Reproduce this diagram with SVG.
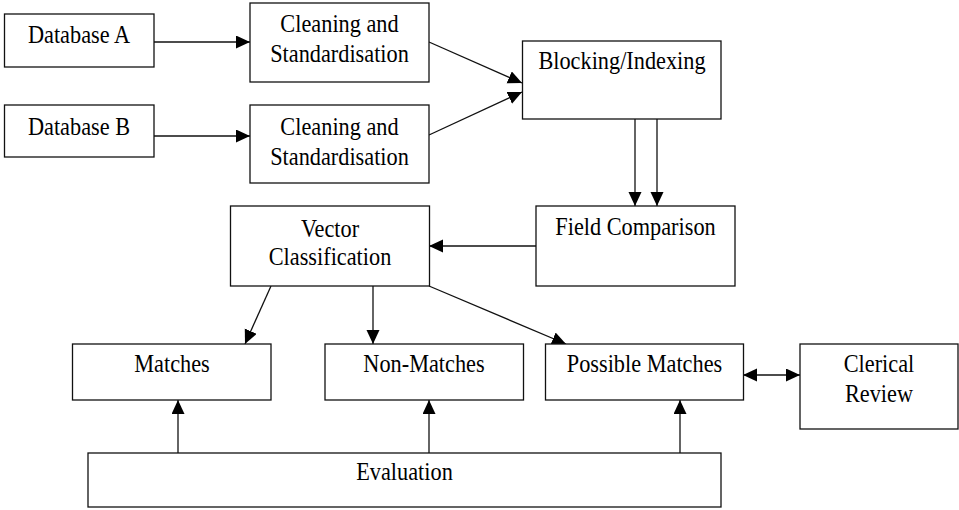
<svg xmlns="http://www.w3.org/2000/svg" width="959" height="510" viewBox="0 0 959 510">
<defs>
<style>
.box{fill:#fff;stroke:#111;stroke-width:1.3}
.t{font-family:"Liberation Serif","Times New Roman",serif;font-size:22.3px;fill:#000;text-anchor:middle}
.c{stroke:#111;stroke-width:1.3;fill:none}
</style>
<marker id="ah" markerUnits="userSpaceOnUse" markerWidth="15" markerHeight="14" refX="14" refY="6.5" orient="auto">
<path d="M0,0 L14,6.5 L0,13 Z" fill="#000"/>
</marker>
<marker id="as" markerUnits="userSpaceOnUse" markerWidth="15" markerHeight="14" refX="14" refY="6.5" orient="auto-start-reverse">
<path d="M0,0 L14,6.5 L0,13 Z" fill="#000"/>
</marker>
</defs>
<rect width="959" height="510" fill="#fff"/>
<g id="connectors">
<line class="c" x1="154" y1="42" x2="250" y2="42" marker-end="url(#ah)"/>
<line class="c" x1="154" y1="136" x2="250" y2="136" marker-end="url(#ah)"/>
<line class="c" x1="429" y1="42" x2="522" y2="83" marker-end="url(#ah)"/>
<line class="c" x1="429" y1="135" x2="522" y2="92" marker-end="url(#ah)"/>
<line class="c" x1="635" y1="119" x2="635" y2="206" marker-end="url(#ah)"/>
<line class="c" x1="657" y1="119" x2="657" y2="206" marker-end="url(#ah)"/>
<line class="c" x1="536" y1="246" x2="429" y2="246" marker-end="url(#ah)"/>
<line class="c" x1="271" y1="286" x2="245" y2="344" marker-end="url(#ah)"/>
<line class="c" x1="373" y1="286" x2="373" y2="344" marker-end="url(#ah)"/>
<line class="c" x1="429" y1="286" x2="566" y2="344" marker-end="url(#ah)"/>
<line class="c" x1="743" y1="375" x2="800" y2="375" marker-start="url(#as)" marker-end="url(#ah)"/>
<line class="c" x1="178" y1="453" x2="178" y2="400" marker-end="url(#ah)"/>
<line class="c" x1="429" y1="453" x2="429" y2="400" marker-end="url(#ah)"/>
<line class="c" x1="680" y1="453" x2="680" y2="400" marker-end="url(#ah)"/>
</g>
<g id="dbA"><rect class="box" x="4.5" y="14" width="149.5" height="53"/><text class="t" transform="translate(79,42.5) scale(1,1.1)">Database A</text></g>
<g id="dbB"><rect class="box" x="4.5" y="105" width="149.5" height="52"/><text class="t" transform="translate(79,135) scale(1,1.1)">Database B</text></g>
<g id="cleanA"><rect class="box" x="250" y="3" width="179" height="79"/><text class="t" transform="translate(339.5,32) scale(1,1.1)">Cleaning and</text><text class="t" transform="translate(339.5,62) scale(1,1.1)">Standardisation</text></g>
<g id="cleanB"><rect class="box" x="250" y="105" width="179" height="78"/><text class="t" transform="translate(339.5,135) scale(1,1.1)">Cleaning and</text><text class="t" transform="translate(339.5,165) scale(1,1.1)">Standardisation</text></g>
<g id="blocking"><rect class="box" x="522.5" y="41" width="198.5" height="78"/><text class="t" transform="translate(622,69) scale(1,1.1)">Blocking/Indexing</text></g>
<g id="field"><rect class="box" x="536" y="206" width="199" height="80"/><text class="t" transform="translate(635.5,235) scale(1,1.1)">Field Comparison</text></g>
<g id="vector"><rect class="box" x="230.5" y="206" width="199" height="80"/><text class="t" transform="translate(330,236.5) scale(1,1.1)">Vector</text><text class="t" transform="translate(330,265) scale(1,1.1)">Classification</text></g>
<g id="matches"><rect class="box" x="72.5" y="344" width="198.5" height="56"/><text class="t" transform="translate(172,372) scale(1,1.1)">Matches</text></g>
<g id="nonmatches"><rect class="box" x="325" y="344" width="198.5" height="56"/><text class="t" transform="translate(424,372) scale(1,1.1)">Non-Matches</text></g>
<g id="possible"><rect class="box" x="545.5" y="344" width="198" height="56"/><text class="t" transform="translate(644.5,372) scale(1,1.1)">Possible Matches</text></g>
<g id="clerical"><rect class="box" x="800" y="344" width="158" height="85"/><text class="t" transform="translate(879,372) scale(1,1.1)">Clerical</text><text class="t" transform="translate(879,402) scale(1,1.1)">Review</text></g>
<g id="evaluation"><rect class="box" x="88" y="453" width="633" height="54"/><text class="t" transform="translate(404.5,480) scale(1,1.1)">Evaluation</text></g>
</svg>
